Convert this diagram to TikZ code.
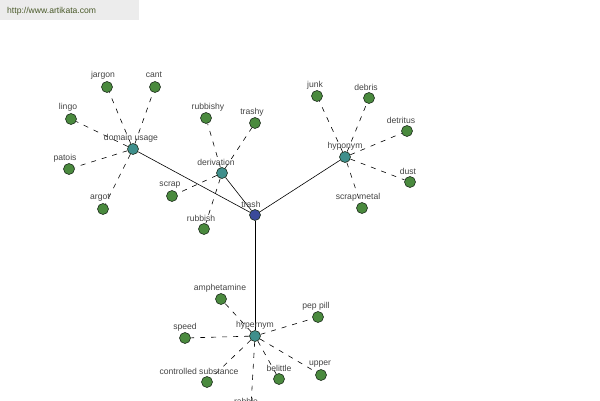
\documentclass[tikz,border=0pt]{standalone}
\usepackage{fontspec}
\setmainfont{Liberation Sans}
\definecolor{leafgreen}{HTML}{4A8A3E}
\definecolor{hubteal}{HTML}{3F8F8C}
\definecolor{rootblue}{HTML}{3A4A9A}
\definecolor{edgedark}{HTML}{1E2E1E}
\definecolor{labelgray}{HTML}{444444}
\definecolor{headbg}{HTML}{ECECEC}
\definecolor{headtext}{HTML}{4A5A2A}
\begin{document}
\begin{tikzpicture}[x=1pt,y=-1pt,
  leaf/.style={circle,draw=edgedark,fill=leafgreen,line width=0.6pt,minimum size=11pt,inner sep=0pt},
  hub/.style={circle,draw=edgedark,fill=hubteal,line width=0.6pt,minimum size=11pt,inner sep=0pt},
  root/.style={circle,draw=edgedark,fill=rootblue,line width=0.6pt,minimum size=11pt,inner sep=0pt},
  lbl/.style={text=labelgray,font=\fontsize{8.6}{10}\selectfont,inner sep=0pt},
  solidedge/.style={draw=black,line width=0.6pt},
  dashedge/.style={draw=black,line width=0.6pt,dash pattern=on 5pt off 6pt}]
\useasboundingbox (0,0) rectangle (600,400);
\fill[headbg] (0,0) rectangle (139,20);
\node[anchor=west,text=headtext,font=\fontsize{8.6}{10}\selectfont,inner sep=0pt] (url) at (7,11) {http://www.artikata.com};

% hubs
\node[root] (trash) at (255,215) {};
\node[hub] (dom) at (133,149) {};
\node[hub] (der) at (222,173) {};
\node[hub] (hypo) at (345,157) {};
\node[hub] (hyper) at (255,336) {};

% leaves
\node[leaf] (jargon) at (107,87) {};
\node[leaf] (cant) at (155,87) {};
\node[leaf] (lingo) at (71,119) {};
\node[leaf] (patois) at (69,169) {};
\node[leaf] (argot) at (103,209) {};
\node[leaf] (rubbishy) at (206,118) {};
\node[leaf] (trashy) at (255,123) {};
\node[leaf] (scrap) at (172,196) {};
\node[leaf] (rubbish) at (204,229) {};
\node[leaf] (junk) at (317,96) {};
\node[leaf] (debris) at (369,98) {};
\node[leaf] (detritus) at (407,131) {};
\node[leaf] (dust) at (410,182) {};
\node[leaf] (scrapmetal) at (362,208) {};
\node[leaf] (amph) at (221,299) {};
\node[leaf] (peppill) at (318,317) {};
\node[leaf] (speed) at (185,338) {};
\node[leaf] (contr) at (207,382) {};
\node[leaf] (belittle) at (279,379) {};
\node[leaf] (upper) at (321,375) {};
\node[leaf] (rabble) at (250,423) {};

% edges
\draw[solidedge] (trash) -- (dom);
\draw[solidedge] (trash) -- (der);
\draw[solidedge] (trash) -- (hypo);
\draw[solidedge] (trash) -- (hyper);
\foreach \n in {jargon,cant,lingo,patois,argot} \draw[dashedge] (dom) -- (\n);
\foreach \n in {rubbishy,trashy,scrap,rubbish} \draw[dashedge] (der) -- (\n);
\foreach \n in {junk,debris,detritus,dust,scrapmetal} \draw[dashedge] (hypo) -- (\n);
\foreach \n in {amph,peppill,speed,contr,belittle,upper,rabble} \draw[dashedge] (hyper) -- (\n);

% labels
\node[lbl] (ltrash) at (251,204) {trash};
\node[lbl] (ldom) at (131,138) {domain usage};
\node[lbl] (lder) at (216,162) {derivation};
\node[lbl] (lhypo) at (345,146) {hyponym};
\node[lbl] (lhyper) at (255,325) {hypernym};
\node[lbl] (ljargon) at (103,75) {jargon};
\node[lbl] (lcant) at (154,75) {cant};
\node[lbl] (llingo) at (68,107) {lingo};
\node[lbl] (lpatois) at (65,158) {patois};
\node[lbl] (largot) at (100,198) {argot};
\node[lbl] (lrubbishy) at (208,107) {rubbishy};
\node[lbl] (ltrashy) at (252,112) {trashy};
\node[lbl] (lscrap) at (170,185) {scrap};
\node[lbl] (lrubbish) at (201,218) {rubbish};
\node[lbl] (ljunk) at (315,85) {junk};
\node[lbl] (ldebris) at (366,87) {debris};
\node[lbl] (ldetritus) at (401,120) {detritus};
\node[lbl] (ldust) at (408,171) {dust};
\node[lbl] (lscrapmetal) at (358,197) {scrap metal};
\node[lbl] (lamph) at (220,288) {amphetamine};
\node[lbl] (lpeppill) at (316,306) {pep pill};
\node[lbl] (lspeed) at (185,327) {speed};
\node[lbl] (lcontr) at (199,371) {controlled substance};
\node[lbl] (lbelittle) at (279,368) {belittle};
\node[lbl] (lupper) at (320,364) {upper};
\node[lbl] (lrabble) at (246,401.5) {rabble};
\end{tikzpicture}
\end{document}
